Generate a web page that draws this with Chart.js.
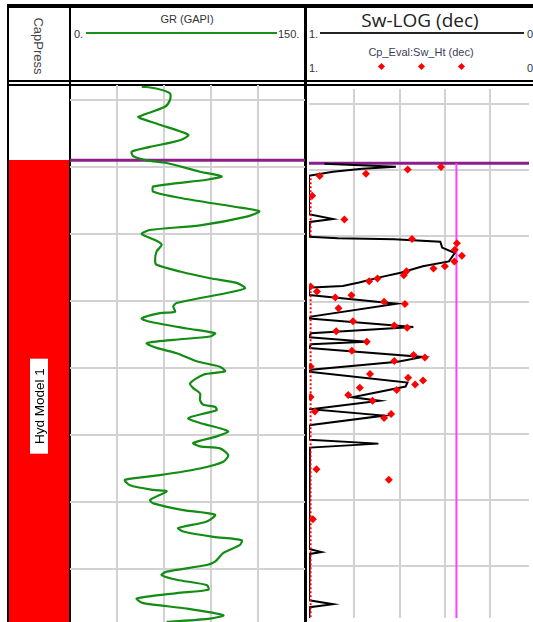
<!DOCTYPE html>
<html>
<head>
<meta charset="utf-8">
<script src="https://cdn.jsdelivr.net/npm/chart.js@4.4.1/dist/chart.umd.min.js"></script>
<style>
  html, body { margin: 0; padding: 0; background: #fff; }
  body { width: 533px; height: 622px; position: relative; overflow: hidden; font-family: "Liberation Sans", Arial, sans-serif; }
  .ln { position: absolute; background: #000; }
  .txt { position: absolute; white-space: nowrap; color: #333; font-size: 11px; line-height: 1; }
  .dia { position: absolute; width: 5px; height: 5px; background: #f00; transform: rotate(45deg); }
  canvas { position: absolute; }
</style>
</head>
<body>
<!-- track frame -->
<div class="ln" style="left:7px;top:4px;width:526px;height:4px"></div>
<div class="ln" style="left:7px;top:4px;width:2px;height:618px"></div>
<div class="ln" style="left:69px;top:4px;width:2px;height:618px"></div>
<div class="ln" style="left:304px;top:4px;width:3px;height:618px"></div>
<div class="ln" style="left:7px;top:80px;width:526px;height:2px"></div>
<div class="ln" style="left:7px;top:84px;width:526px;height:2px"></div>

<!-- header: zone column -->
<div class="txt" style="left:38px;top:46px;font-size:13px;color:#444;transform:translate(-50%,-50%) rotate(90deg)">CapPress</div>

<!-- header: GR track -->
<div class="txt" style="left:187px;top:14px;transform:translateX(-50%)">GR (GAPI)</div>
<div class="txt" style="left:74px;top:29px">0.</div>
<div class="ln" style="left:86px;top:32px;width:191px;height:2px;background:#1a8f1a"></div>
<div class="txt" style="left:278px;top:29px">150.</div>

<!-- header: Sw track -->
<div class="txt" style="left:420px;top:11px;font-family:'Open Sans',sans-serif;font-size:19px;color:#222;transform:translateX(-50%)">Sw-LOG (dec)</div>
<div class="txt" style="left:309px;top:29px">1.</div>
<div class="ln" style="left:320px;top:32px;width:204px;height:2px;background:#222"></div>
<div class="txt" style="left:527px;top:29px">0</div>
<div class="txt" style="left:421px;top:47px;color:#3c3c5c;transform:translateX(-50%)">Cp_Eval:Sw_Ht (dec)</div>
<div class="txt" style="left:309px;top:63px">1.</div>
<div class="dia" style="left:379px;top:64px"></div>
<div class="dia" style="left:419px;top:64px"></div>
<div class="dia" style="left:459px;top:64px"></div>
<div class="txt" style="left:527px;top:63px">0</div>

<canvas id="zone" width="60" height="537" style="left:9px;top:85px"></canvas>
<canvas id="gr" width="235" height="537" style="left:70px;top:85px"></canvas>
<canvas id="sw" width="228" height="537" style="left:305px;top:85px"></canvas>

<script>
// ---- depth window and grid ----
const depthTop = 997.76;
const depthBottom = 1077.91;
const depthTicks = [1000, 1010, 1020, 1030, 1040, 1050, 1060, 1070];
const grTicks = [30, 60, 90, 120];
const swTicks = [0.8, 0.6, 0.4, 0.2];

// ---- zone (capillary pressure model) ----
const zoneNames = ['Hyd Model 1'];
const zoneTops = [1009.0];
const zoneBottoms = [1082.4];

// ---- reference lines ----
const contactDepth = 1009.0;   // zone top / contact line
const swCutoff = 0.35;         // Sw cutoff line

// ---- GR log (GAPI) ----
const grDepth = [998.0, 998.25, 999.0, 1000.0, 1001.0, 1002.5, 1002.7, 1003.7, 1005.2, 1006.0,
  1007.0, 1007.7, 1008.4, 1009.0, 1009.4, 1010.7, 1011.4, 1011.9, 1012.9, 1013.7,
  1014.7, 1015.9, 1016.6, 1017.4, 1018.7, 1019.4, 1020.0, 1020.9, 1021.6, 1022.6,
  1023.9, 1024.6, 1025.6, 1026.6, 1027.3, 1028.1, 1028.8, 1030.3, 1030.8, 1031.6,
  1031.8, 1032.6, 1033.1, 1034.1, 1034.8, 1035.3, 1035.8, 1036.3, 1037.0, 1037.8,
  1039.0, 1039.8, 1040.5, 1041.0, 1042.3, 1043.0, 1043.8, 1044.8, 1045.5, 1045.8,
  1046.3, 1046.7, 1047.5, 1048.2, 1049.0, 1049.5, 1050.2, 1051.2, 1051.7, 1052.0,
  1053.0, 1054.0, 1055.0, 1056.0, 1056.7, 1057.5, 1058.2, 1058.4, 1059.7, 1060.2,
  1061.2, 1061.9, 1062.9, 1063.9, 1064.4, 1065.2, 1065.7, 1066.4, 1067.6, 1068.9,
  1069.4, 1070.4, 1070.9, 1071.6, 1072.4, 1073.1, 1073.6, 1074.4, 1075.1, 1075.9,
  1076.9, 1077.4, 1077.9];
const grValues = [45.8, 54.3, 63.8, 63.8, 60.6, 43.6, 44.7, 57.4, 75.5, 70.2,
  51.1, 39.4, 40.4, 49.0, 61.7, 83.0, 96.8, 87.3, 53.2, 53.2,
  72.3, 104.2, 120.8, 112.8, 83.0, 51.1, 45.8, 54.3, 58.5, 55.3,
  54.3, 55.3, 70.2, 89.4, 106.4, 111.7, 100.0, 68.1, 65.9, 67.0,
  57.4, 45.8, 51.1, 74.5, 92.6, 89.4, 65.9, 49.0, 55.3, 68.1,
  80.9, 95.7, 98.9, 85.1, 76.6, 78.7, 83.0, 83.0, 85.1, 92.6,
  93.6, 87.3, 75.5, 83.0, 95.7, 101.0, 93.6, 78.7, 83.0, 95.7,
  101.0, 97.9, 83.0, 57.4, 35.1, 38.3, 53.2, 61.7, 51.1, 53.2,
  72.3, 92.6, 87.3, 69.1, 72.3, 91.5, 109.6, 108.5, 97.9, 92.6,
  87.3, 61.7, 58.5, 68.1, 87.3, 88.3, 68.1, 42.6, 46.8, 74.5,
  97.9, 89.4, 61.7];

// ---- Sw log (dec) ----
const swDepth = [1009.10, 1009.55, 1009.85, 1010.30, 1010.90, 1016.72, 1017.46, 1017.91, 1018.21, 1020.15,
  1020.37, 1020.52, 1020.90, 1021.79, 1022.61, 1023.88, 1024.63, 1025.60, 1026.34, 1027.09,
  1027.61, 1027.84, 1028.06, 1028.96, 1030.30, 1032.24, 1032.54, 1033.81, 1034.78, 1035.37,
  1036.04, 1036.42, 1037.01, 1038.36, 1039.10, 1040.30, 1040.60, 1042.24, 1042.84, 1044.48,
  1045.00, 1046.27, 1047.24, 1048.66, 1048.81, 1050.90, 1051.49, 1052.09, 1052.39, 1067.46,
  1067.91, 1068.21, 1075.22, 1075.82, 1076.27, 1076.72, 1077.91];
const swValues = [0.932, 0.617, 0.766, 0.894, 1.0, 1.0, 0.894, 0.996, 1.0, 1.0,
  0.872, 0.626, 0.421, 0.413, 0.357, 0.383, 0.498, 0.596, 0.694, 0.779,
  0.851, 0.987, 1.0, 1.0, 0.613, 0.991, 1.0, 0.540, 0.991, 1.0,
  0.745, 0.991, 1.0, 0.498, 0.609, 0.991, 1.0, 0.566, 0.574, 0.809,
  0.689, 0.991, 0.668, 0.991, 1.0, 1.0, 0.694, 0.996, 1.0, 1.0,
  0.945, 0.996, 1.0, 0.894, 0.996, 1.0, 1.0];

// ---- Cp_Eval:Sw_Ht (dec) ----
const htDepth = [1009.58, 1009.94, 1010.60, 1010.94, 1013.93, 1017.55, 1020.48, 1021.13, 1022.12, 1023.01,
  1023.88, 1024.63, 1024.97, 1025.37, 1025.97, 1026.46, 1026.87, 1027.70, 1028.45, 1029.34,
  1029.00, 1030.00, 1030.34, 1030.97, 1032.93, 1033.58, 1033.93, 1034.48, 1036.06, 1037.40,
  1038.06, 1038.45, 1038.96, 1039.79, 1040.93, 1041.52, 1041.94, 1042.54, 1043.01, 1043.37,
  1044.12, 1044.42, 1045.01, 1046.61, 1047.01, 1047.61, 1055.37, 1056.96, 1062.93];
const htValues = [0.418, 0.565, 0.749, 0.953, 0.986, 0.844, 0.546, 0.348, 0.357, 0.326,
  0.359, 0.401, 0.451, 0.570, 0.582, 0.698, 0.735, 0.993, 0.965, 0.884,
  0.813, 0.669, 0.577, 0.870, 0.806, 0.624, 0.567, 0.880, 0.745, 0.811,
  0.539, 0.489, 0.624, 0.993, 0.731, 0.563, 0.497, 0.532, 0.776, 0.613,
  0.827, 0.993, 0.720, 0.974, 0.638, 0.669, 0.967, 0.648, 0.983];
// Sw_Ht samples sitting at full water saturation (drawn as a dotted trace)
const htFullDepth = [1011.3, 1020.2, null, 1027.8, 1077.91];
const htFullValue = [0.993, 0.993, null, 0.993, 0.993];

const pts = (xs, ys) => xs.map((x, i) => ({ x: x, y: ys[i] }));
const setTicks = vals => axis => { axis.ticks = vals.map(v => ({ value: v })); };

const GRID = { color: '#d2d2d2', lineWidth: 2, drawTicks: false };
function depthAxis(withGrid) {
  return {
    type: 'linear', reverse: true, min: depthTop, max: depthBottom,
    display: withGrid, afterBuildTicks: setTicks(depthTicks),
    grid: GRID, border: { display: false }, ticks: { display: false }
  };
}
const common = {
  responsive: false, animation: false,
  layout: { padding: 0 },
  plugins: { legend: { display: false }, tooltip: { enabled: false } }
};

// ---- zone column ----
const zoneLabel = {
  id: 'zoneLabel',
  afterDatasetsDraw(chart) {
    const ctx = chart.ctx, ys = chart.scales.y;
    const bar = chart.getDatasetMeta(0).data[0];
    const cy = (ys.getPixelForValue(zoneTops[0]) + ys.getPixelForValue(zoneBottoms[0])) / 2;
    ctx.save();
    ctx.fillStyle = '#fff';
    ctx.fillRect(bar.x - 9, cy - 47.5, 18, 95);
    ctx.translate(bar.x + 1, cy);
    ctx.rotate(-Math.PI / 2);
    ctx.fillStyle = '#000';
    ctx.font = '13.5px "Liberation Sans", Arial, sans-serif';
    ctx.textAlign = 'center';
    ctx.textBaseline = 'middle';
    ctx.fillText(zoneNames[0], 0, 0);
    ctx.restore();
  }
};
new Chart(document.getElementById('zone'), {
  type: 'bar',
  data: {
    labels: zoneNames,
    datasets: [{
      data: zoneTops.map((t, i) => [t, zoneBottoms[i]]),
      backgroundColor: '#ff0000', borderWidth: 0,
      barPercentage: 1, categoryPercentage: 1
    }]
  },
  options: Object.assign({}, common, {
    scales: {
      x: { display: false },
      y: depthAxis(false)
    }
  }),
  plugins: [zoneLabel]
});

// ---- GR track ----
new Chart(document.getElementById('gr'), {
  type: 'scatter',
  data: {
    datasets: [
      { data: pts(grValues, grDepth), showLine: true, borderColor: '#128c12', borderWidth: 2.2,
        pointRadius: 0, tension: 0.25 },
      { data: [{ x: 0, y: contactDepth }, { x: 150, y: contactDepth }], showLine: true,
        borderColor: '#8b1e8b', borderWidth: 3, pointRadius: 0 }
    ]
  },
  options: Object.assign({}, common, {
    scales: {
      x: { type: 'linear', min: 0, max: 150, afterBuildTicks: setTicks(grTicks),
           grid: GRID, border: { display: false }, ticks: { display: false } },
      y: depthAxis(true)
    }
  })
});

// ---- Sw track ----
new Chart(document.getElementById('sw'), {
  type: 'scatter',
  data: {
    datasets: [
      { data: pts(htValues, htDepth), showLine: false, pointStyle: 'rectRot', pointRadius: 4,
        backgroundColor: '#ff0000', borderWidth: 0 },
      { data: pts(htFullValue, htFullDepth), showLine: true, spanGaps: false, borderColor: '#ff0000',
        borderWidth: 2, borderDash: [2, 2], pointRadius: 0 },
      { data: pts(swValues, swDepth), showLine: true, borderColor: '#000', borderWidth: 2,
        pointRadius: 0, tension: 0 },
      { data: [{ x: swCutoff, y: contactDepth }, { x: swCutoff, y: depthBottom }], showLine: true,
        borderColor: '#ff40ff', borderWidth: 2, pointRadius: 0 },
      { data: [{ x: 0.03, y: contactDepth }, { x: 1, y: contactDepth }], showLine: true,
        borderColor: '#8b1e8b', borderWidth: 3, pointRadius: 0 }
    ]
  },
  options: Object.assign({}, common, {
    scales: {
      x: { type: 'linear', reverse: true, min: 0.03, max: 1, afterBuildTicks: setTicks(swTicks),
           grid: GRID, border: { display: false }, ticks: { display: false } },
      y: depthAxis(true)
    }
  })
});
</script>
</body>
</html>
